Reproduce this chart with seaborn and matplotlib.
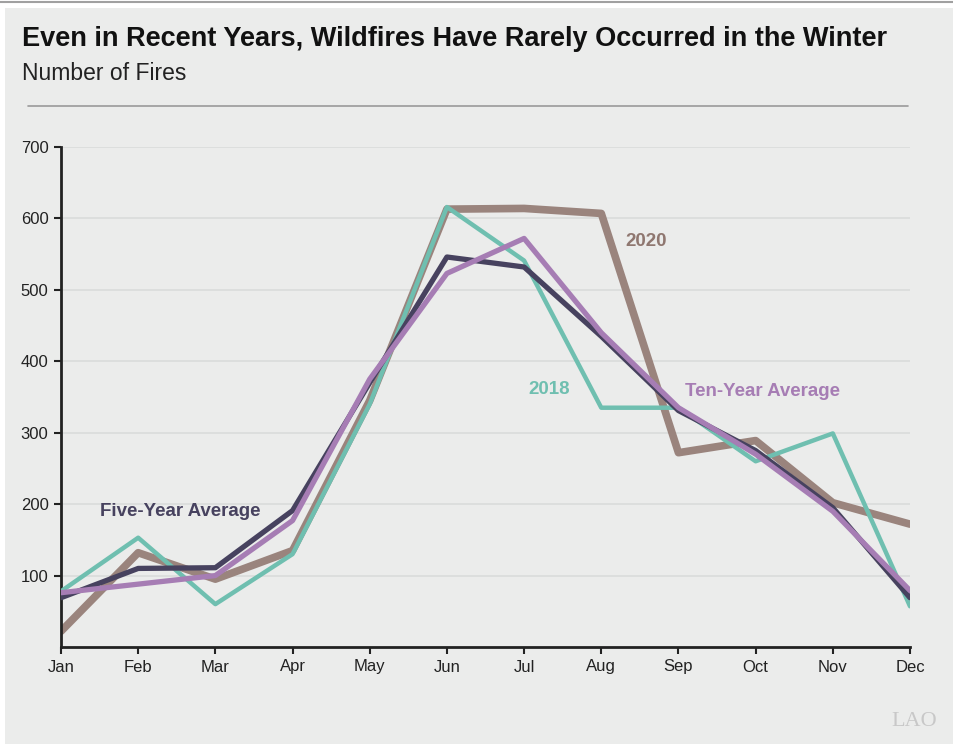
import matplotlib
matplotlib.use("Agg")
import matplotlib.pyplot as plt
import seaborn as sns
import pandas as pd
from matplotlib.patches import Rectangle
from matplotlib.lines import Line2D

months = ["Jan", "Feb", "Mar", "Apr", "May", "Jun", "Jul", "Aug", "Sep", "Oct", "Nov", "Dec"]
fires_2018 = [78, 153, 60, 130, 340, 616, 541, 335, 335, 260, 299, 57]
fires_2020 = [22, 132, 95, 135, 345, 613, 614, 607, 272, 289, 202, 172]
five_year_avg = [69, 110, 111, 191, 370, 546, 532, 435, 331, 275, 195, 69]
ten_year_avg = [76, 88, 100, 177, 375, 523, 572, 440, 335, 270, 190, 79]
y_ticks = [100, 200, 300, 400, 500, 600, 700]

series_names = ["2018", "2020", "Five-Year Average", "Ten-Year Average"]
series_vals = [fires_2018, fires_2020, five_year_avg, ten_year_avg]

rows = []
for name, vals in zip(series_names, series_vals):
    for i, (m, v) in enumerate(zip(months, vals)):
        rows.append({"series": name, "idx": i, "month": m, "fires": v})
df = pd.DataFrame(rows)

colors = {"2018": "#6fbfb0", "2020": "#9a847d", "Five-Year Average": "#47425f", "Ten-Year Average": "#a67db4"}
widths = {"2018": 3.2, "2020": 5.5, "Five-Year Average": 3.8, "Ten-Year Average": 3.8}

sns.set_theme(style="white")
plt.rcParams['font.family'] = ['Liberation Sans', 'DejaVu Sans']

bg = "#ebeceb"
fig = plt.figure(figsize=(9.54, 7.44), dpi=100, facecolor="white")
fig.patches.append(Rectangle((5 / 954, 0), 1, 1 - 8 / 744, transform=fig.transFigure,
                             facecolor=bg, edgecolor="none", zorder=-10))
fig.add_artist(Line2D([0, 1], [1 - 1.5 / 744, 1 - 1.5 / 744], transform=fig.transFigure,
                      color="#a0a0a0", lw=1.5))

ax = fig.add_axes([61 / 954, 1 - 647 / 744, 849 / 954, 500 / 744])
ax.set_facecolor(bg)

for name in ["2018", "Five-Year Average", "Ten-Year Average", "2020"]:
    sub = df[df["series"] == name]
    sns.lineplot(data=sub, x="idx", y="fires", ax=ax, color=colors[name],
                 lw=widths[name], legend=False, zorder=3 if name != "2020" else 2)

ax.set_xlim(0, 11)
ax.set_ylim(0, 700)
ax.set_xticks(range(len(months)))
ax.set_xticklabels(months, fontsize=12, color="#222222")
ax.set_yticks(y_ticks)
ax.set_yticklabels([str(t) for t in y_ticks], fontsize=12, color="#222222")
ax.set_xlabel("")
ax.set_ylabel("")
ax.grid(axis="y", color="#d9dcdb", lw=1.2)
ax.set_axisbelow(True)
for s in ["top", "right"]:
    ax.spines[s].set_visible(False)
for s in ["left", "bottom"]:
    ax.spines[s].set_color("#222222")
    ax.spines[s].set_linewidth(2)
ax.tick_params(axis="both", which="both", length=5, width=1.5, color="#222222", pad=4,
               left=True, bottom=True, direction="out")

# series labels
lab = dict(fontsize=13.5, fontweight="bold", va="center", ha="left")
ax.text(7.31, 568, "2020", color="#8f7770", **lab)
ax.text(6.05, 360, "2018", color="#6fbfb0", **lab)
ax.text(8.08, 358, "Ten-Year Average", color="#a67db4", **lab)
ax.text(0.505, 189, "Five-Year Average", color="#47425f", **lab)

fig.text(22 / 954, 1 - 39 / 744, "Even in Recent Years, Wildfires Have Rarely Occurred in the Winter",
         fontsize=19.5, fontweight="bold", color="#111111", va="center", ha="left")
fig.text(22 / 954, 1 - 73 / 744, "Number of Fires", fontsize=16.5, color="#222222", va="center", ha="left")
fig.add_artist(Line2D([28 / 954, 908 / 954], [1 - 106 / 744, 1 - 106 / 744], transform=fig.transFigure,
                      color="#9a9a9a", lw=1.2))
fig.text(937 / 954, 1 - 721 / 744, "LAO", fontsize=16, color="#c8c8c8", family="Liberation Serif",
         ha="right", va="center")

fig.savefig("out.png", dpi=100, facecolor=fig.get_facecolor())
